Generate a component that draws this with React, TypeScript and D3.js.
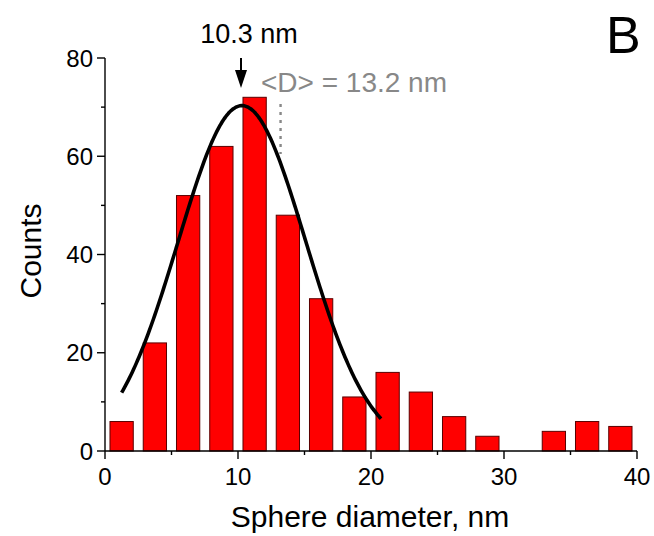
import React from "react";
import * as d3 from "d3";

const binCenters = [1.25, 3.75, 6.25, 8.75, 11.25, 13.75, 16.25, 18.75, 21.25, 23.75, 26.25, 28.75, 31.25, 33.75, 36.25, 38.75];
const counts = [6, 22, 52, 62, 72, 48, 31, 11, 16, 12, 7, 3, 0, 4, 6, 5];
const xTicks = [0, 10, 20, 30, 40];
const yTicks = [0, 20, 40, 60, 80];
const xMinor = [5, 15, 25, 35];
const yMinor = [10, 30, 50, 70];
// Gaussian fit parameters
const fitCenter = 10.3;
const fitAmp = 70.3;
const fitSigma = 4.8;
const fitRange = [1.25, 20.8];
const meanD = 13.2;

export default function App() {
  const W = 654, H = 536;
  const x = d3.scaleLinear().domain([0, 40]).range([105, 637]);
  const y = d3.scaleLinear().domain([0, 80]).range([451, 58]);
  const binW = 1.75;
  const fitPts = d3.range(fitRange[0], fitRange[1] + 0.001, 0.1).map((v) => [v, fitAmp * Math.exp(-((v - fitCenter) ** 2) / (2 * fitSigma * fitSigma))] as [number, number]);
  const line = d3.line<[number, number]>().x((d) => x(d[0])).y((d) => y(d[1])).curve(d3.curveMonotoneX);
  const font = "Arial, 'Liberation Sans', sans-serif";
  const ax = 241;
  return (
    <svg width={W} height={H} style={{ position: "absolute", left: 0, top: 0 }} fontFamily={font}>
      <rect width={W} height={H} fill="#fff" />
      {counts.map((c, i) => (
        <rect key={i} x={x(binCenters[i] - binW / 2)} y={y(c)} width={x(binW) - x(0)} height={y(0) - y(c)} fill="#ff0000" stroke="#5a0000" strokeWidth={1} />
      ))}
      <path d={line(fitPts) || ""} fill="none" stroke="#000" strokeWidth={3.6} />
      {/* axes */}
      <line x1={x(0)} x2={x(0)} y1={y(0)} y2={y(80)} stroke="#000" strokeWidth={1.4} />
      <line x1={x(0)} x2={x(40)} y1={y(0)} y2={y(0)} stroke="#000" strokeWidth={1.4} />
      {yTicks.map((t) => (
        <g key={"y" + t}>
          <line x1={x(0) - 8} x2={x(0)} y1={y(t)} y2={y(t)} stroke="#000" strokeWidth={1.4} />
          <text x={x(0) - 12} y={y(t)} dy="0.36em" textAnchor="end" fontSize={24}>{t}</text>
        </g>
      ))}
      {yMinor.map((t) => (
        <line key={"ym" + t} x1={x(0) - 4} x2={x(0)} y1={y(t)} y2={y(t)} stroke="#000" strokeWidth={1.4} />
      ))}
      {xTicks.map((t) => (
        <g key={"x" + t}>
          <line x1={x(t)} x2={x(t)} y1={y(0)} y2={y(0) + 8} stroke="#000" strokeWidth={1.4} />
          <text x={x(t)} y={y(0) + 34} textAnchor="middle" fontSize={24}>{t}</text>
        </g>
      ))}
      {xMinor.map((t) => (
        <line key={"xm" + t} x1={x(t)} x2={x(t)} y1={y(0)} y2={y(0) + 4} stroke="#000" strokeWidth={1.4} />
      ))}
      <text x={370} y={527} textAnchor="middle" fontSize={30}>Sphere diameter, nm</text>
      <text transform={`translate(41,251) rotate(-90)`} textAnchor="middle" fontSize={30}>Counts</text>
      <text x={606} y={53} fontSize={52}>B</text>
      {/* annotations */}
      <text x={249} y={43} textAnchor="middle" fontSize={27}>10.3 nm</text>
      <line x1={ax} x2={ax} y1={58} y2={72} stroke="#000" strokeWidth={2} />
      <path d={`M${ax - 6},70 L${ax + 6},70 L${ax},88 Z`} fill="#000" />
      <text x={261} y={92} fontSize={28} fill="#888">{"<D> = 13.2 nm"}</text>
      <line x1={x(meanD)} x2={x(meanD)} y1={104} y2={154} stroke="#888" strokeWidth={2.4} strokeDasharray="3,5" />
    </svg>
  );
}
